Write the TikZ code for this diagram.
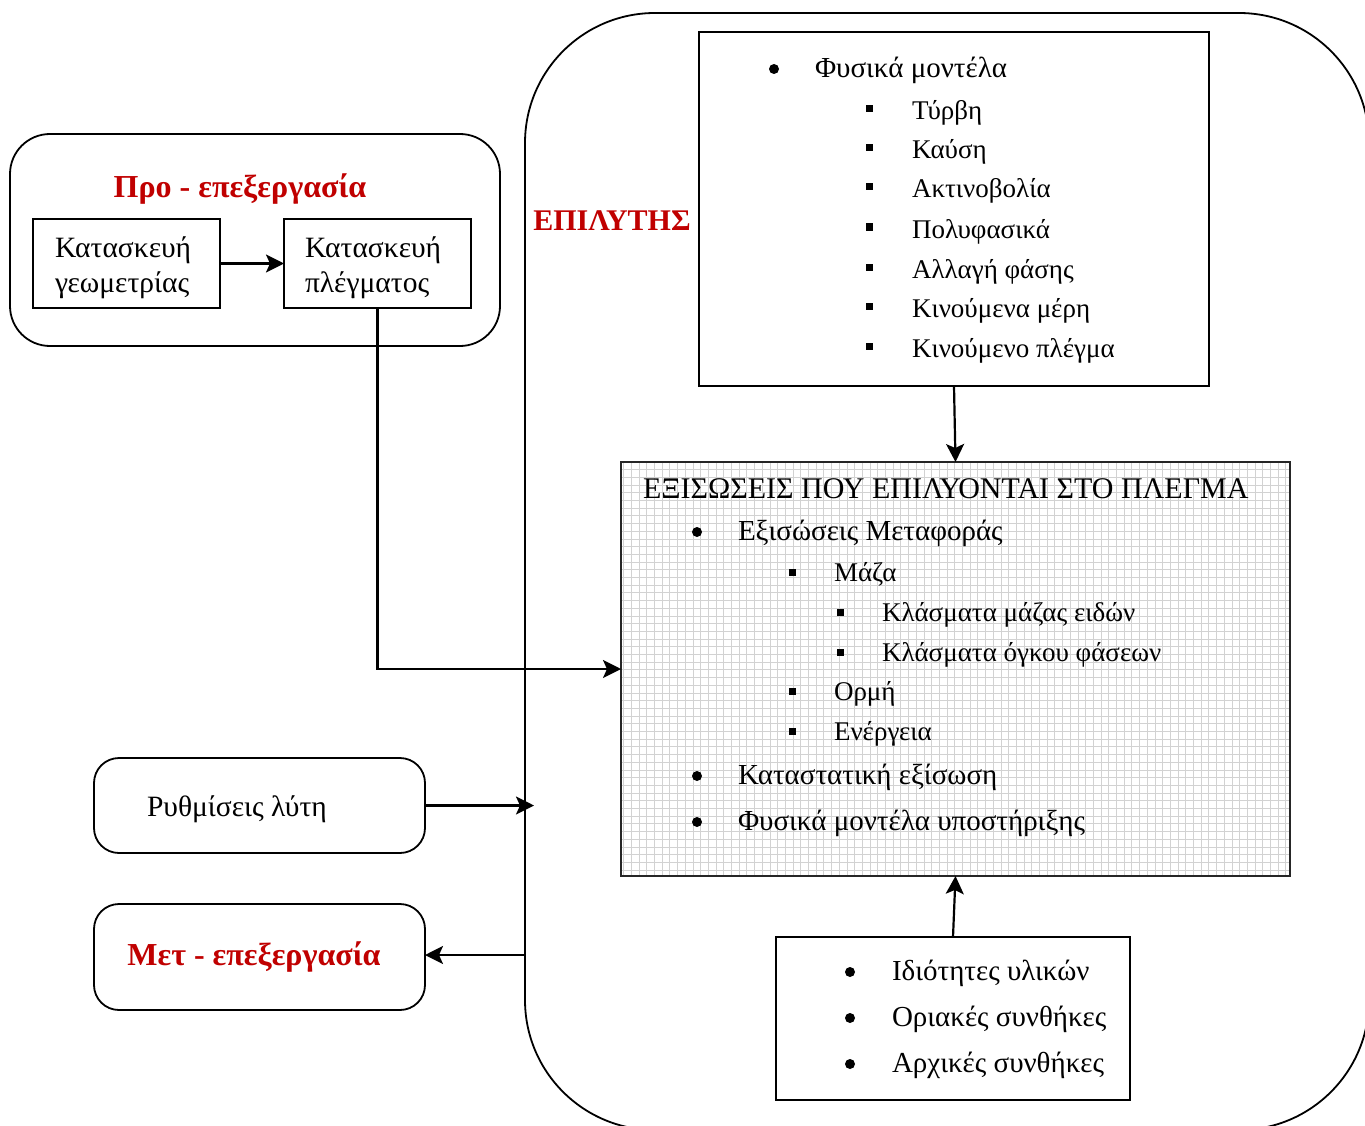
\documentclass[tikz,border=0pt]{standalone}
\usepackage{fontspec}
\setmainfont{Liberation Serif}
\usetikzlibrary{arrows.meta}
\definecolor{hdred}{HTML}{C00000}
\definecolor{gridgray}{HTML}{D2D2D2}
\begin{document}
\begin{tikzpicture}[x=1pt,y=-1pt,
  every node/.style={inner sep=0pt, outer sep=0pt},
  txt/.style={anchor=base west, font=\fontsize{29}{34}\selectfont},
  txts/.style={anchor=base west, font=\fontsize{27}{32}\selectfont},
  hd/.style={anchor=base, font=\fontsize{32}{36}\selectfont\bfseries, text=hdred},
  frame/.style={draw, line width=1.8pt},
  arr/.style={line width=2.2pt, -{Stealth[length=18pt,width=18pt,inset=4pt]}},
  dot/.style={fill=black},
]
\useasboundingbox (0,0) rectangle (1365,1126);

% solver frame
\node (solver) [frame, rounded corners=130pt, minimum width=844pt, minimum height=1117pt] at (947,571.5) {};
\node (solverlbl) [hd, font=\fontsize{30}{34}\selectfont\bfseries] at (612,230) {ΕΠΙΛΥΤΗΣ};

% pre-processing
\node (pre) [frame, rounded corners=40pt, minimum width=490pt, minimum height=212pt] at (255,240) {};
\node (prelbl) [hd] at (240,198) {Προ - επεξεργασία};
\node (geo) [frame, fill=white, minimum width=187pt, minimum height=89pt] at (126.5,263.5) {};
\node (geoA) [txt, font=\fontsize{29.5}{34}\selectfont] at (55,257) {Κατασκευή};
\node (geoB) [txt, font=\fontsize{29.5}{34}\selectfont] at (55,292) {γεωμετρίας};
\node (mesh) [frame, fill=white, minimum width=187pt, minimum height=89pt] at (377.5,263.5) {};
\node (meshA) [txt, font=\fontsize{29.5}{34}\selectfont] at (305,257) {Κατασκευή};
\node (meshB) [txt, font=\fontsize{29.5}{34}\selectfont] at (305,292) {πλέγματος};

% physical models box
\node (models) [frame, minimum width=510pt, minimum height=354pt] at (954,209) {};
\fill[dot] (774,69) circle (5);
\node (m0) [txt] at (815,78) {Φυσικά μοντέλα};
\foreach \yy/\lbl [count=\i] in {109/Τύρβη,148/Καύση,187/Ακτινοβολία,227/Πολυφασικά,267/Αλλαγή φάσης,306/Κινούμενα μέρη,346/Κινούμενο πλέγμα}{
  \fill[dot] (865.5,\yy-3.5) rectangle (872.5,\yy+3.5);
  \node (m\i) [txts] at (912,\yy+11) {\lbl};
}

% equations box with grid
\node (grid) [fill=white, minimum width=669pt, minimum height=414pt] at (955.5,669) {};
\begin{scope}
  \clip (grid.north west) rectangle (grid.south east);
  \draw[gridgray, line width=0.9pt, step=7.7pt] (621,877) grid (1291,462);
\end{scope}
\draw[black!85, line width=1.8pt] (grid.north west) rectangle (grid.south east);
\node (eqt) [txt, font=\fontsize{30}{34}\selectfont] at (643,498) {ΕΞΙΣΩΣΕΙΣ ΠΟΥ ΕΠΙΛΥΟΝΤΑΙ ΣΤΟ ΠΛΕΓΜΑ};
\fill[dot] (697,532) circle (5);
\node (e1) [txt] at (738,540) {Εξισώσεις Μεταφοράς};
\fill[dot] (788.5,568.5) rectangle (795.5,575.5);
\node (e2) [txts] at (834,581) {Μάζα};
\fill[dot] (836.5,608.5) rectangle (843.5,615.5);
\node (e3) [txts] at (882,621) {Κλάσματα μάζας ειδών};
\fill[dot] (836.5,648.5) rectangle (843.5,655.5);
\node (e4) [txts] at (882,661) {Κλάσματα όγκου φάσεων};
\fill[dot] (788.5,687.5) rectangle (795.5,694.5);
\node (e5) [txts] at (834,700) {Ορμή};
\fill[dot] (788.5,727.5) rectangle (795.5,734.5);
\node (e6) [txts] at (834,740) {Ενέργεια};
\fill[dot] (697,776) circle (5);
\node (e7) [txt] at (738,784) {Καταστατική εξίσωση};
\fill[dot] (697,822) circle (5);
\node (e8) [txt] at (738,830) {Φυσικά μοντέλα υποστήριξης};

% properties box
\node (props) [frame, minimum width=354pt, minimum height=163pt] at (953,1018.5) {};
\fill[dot] (850,972) circle (5);
\node (p1) [txt] at (892,980) {Ιδιότητες υλικών};
\fill[dot] (850,1018) circle (5);
\node (p2) [txt] at (892,1026) {Οριακές συνθήκες};
\fill[dot] (850,1064) circle (5);
\node (p3) [txt] at (892,1072) {Αρχικές συνθήκες};

% settings and post-processing
\node (settings) [frame, rounded corners=25pt, minimum width=331pt, minimum height=95pt] at (259.5,805.5) {};
\node (setlbl) [txt, font=\fontsize{29.5}{34}\selectfont] at (147,816) {Ρυθμίσεις λύτη};
\node (post) [frame, rounded corners=25pt, minimum width=331pt, minimum height=106pt] at (259.5,957) {};
\node (postlbl) [hd] at (254,965) {Μετ - επεξεργασία};

\coordinate (sIn) at (534,805.5);
\coordinate (pOut) at (525,955);

% connectors
\draw[arr] (geo.east) -- (mesh.west);
\draw[arr] (mesh.south) |- (grid.west);
\draw[arr] (models.south) -- (grid.north);
\draw[arr] (props.north) -- (grid.south);
\draw[arr] (settings.east) -- (sIn);
\draw[arr] (pOut) -- (pOut -| post.east);
\end{tikzpicture}
\end{document}
